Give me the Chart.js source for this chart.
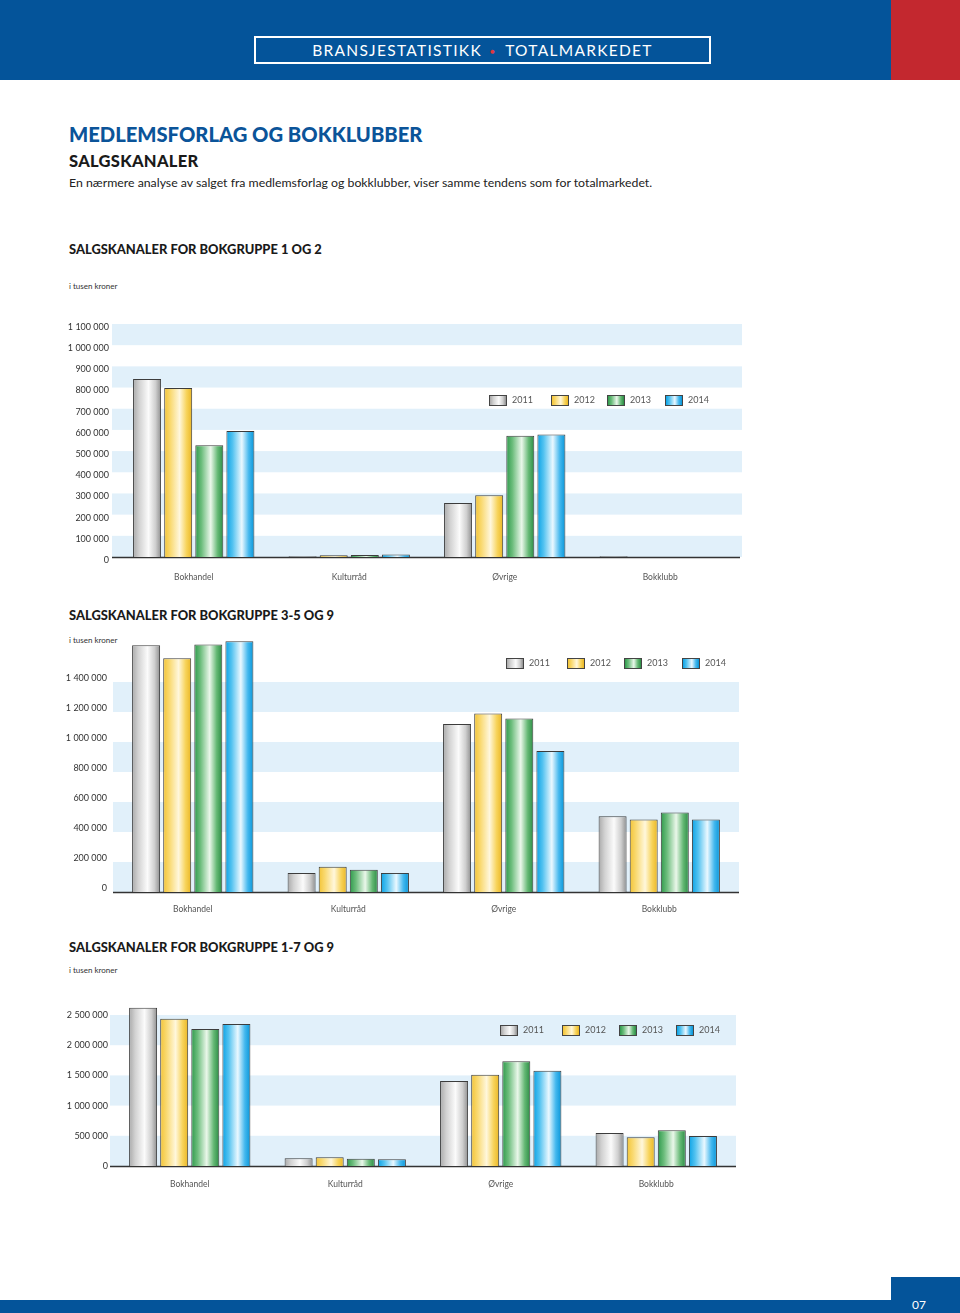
<!DOCTYPE html>
<html lang="no">
<head>
<meta charset="utf-8">
<script src="https://cdn.jsdelivr.net/npm/chart.js@4.4.1/dist/chart.umd.min.js"></script>
<style>
  html, body { margin: 0; padding: 0; background: #fff; }
  body { width: 960px; height: 1313px; position: relative; overflow: hidden; font-family: Lato, "Open Sans", sans-serif; color: #222; }
  .abs { position: absolute; }
  #hdr { left: 0; top: 0; width: 891px; height: 80px; background: #04549a; }
  #hdrRed { left: 891px; top: 0; width: 69px; height: 80px; background: #c3282f; }
  #hdrBox { left: 254px; top: 36px; width: 453px; height: 24px; border: 2px solid #fff; color: #fff; font-size: 15.5px; letter-spacing: 1.3px; text-align: center; line-height: 25px; white-space: nowrap; }
  #hdrBox .dot { color: #e0383f; font-size: 8px; margin: 0 9px 0 8px; vertical-align: 2px; }
  #h1 { left: 69px; top: 122px; font-size: 20.2px; font-weight: 900; color: #0b5499; white-space: nowrap; }
  #h2 { left: 69px; top: 151px; font-size: 16.5px; font-weight: 900; color: #1a1a1a; white-space: nowrap; letter-spacing: 0.3px; }
  #p1 { left: 69px; top: 175px; font-size: 12.3px; color: #222; white-space: nowrap; }
  .ctitle { left: 69px; font-size: 12.9px; font-weight: 900; color: #1a1a1a; white-space: nowrap; }
  .unit { left: 69px; font-size: 8px; color: #333; white-space: nowrap; }
  canvas { position: absolute; left: 0; }
  .legend { position: absolute; font-size: 9px; color: #555; white-space: nowrap; }
  .legend .item { position: absolute; top: 0; }
  .legend .sw { position: absolute; top: 0; width: 16px; height: 9px; border: 1px solid #444; }
  .legend .lt { position: absolute; top: -1px; line-height: 12px; }
  #ftBar { left: 0; top: 1300px; width: 960px; height: 13px; background: #04549a; }
  #ftBox { left: 891px; top: 1277px; width: 69px; height: 36px; background: #04549a; }
  #ftNum { left: 891px; top: 1297px; width: 35px; text-align: right; color: #fff; font-size: 12px; }
</style>
</head>
<body>
<div id="hdr" class="abs"></div>
<div id="hdrRed" class="abs"></div>
<div id="hdrBox" class="abs">BRANSJESTATISTIKK<span class="dot">●</span>TOTALMARKEDET</div>

<div id="h1" class="abs">MEDLEMSFORLAG OG BOKKLUBBER</div>
<div id="h2" class="abs">SALGSKANALER</div>
<div id="p1" class="abs">En nærmere analyse av salget fra medlemsforlag og bokklubber, viser samme tendens som for totalmarkedet.</div>

<div class="abs ctitle" style="top:241px">SALGSKANALER FOR BOKGRUPPE 1 OG 2</div>
<div class="abs unit" style="top:281px">i tusen kroner</div>
<canvas id="c1" width="960" height="300" style="top:300px"></canvas>
<div class="legend" id="lg1" style="left:489px; top:395px"></div>

<div class="abs ctitle" style="top:607px">SALGSKANALER FOR BOKGRUPPE 3-5 OG 9</div>
<div class="abs unit" style="top:635px">i tusen kroner</div>
<canvas id="c2" width="960" height="300" style="top:625px"></canvas>
<div class="legend" id="lg2" style="left:506px; top:658px"></div>

<div class="abs ctitle" style="top:939px">SALGSKANALER FOR BOKGRUPPE 1-7 OG 9</div>
<div class="abs unit" style="top:965px">i tusen kroner</div>
<canvas id="c3" width="960" height="200" style="top:990px"></canvas>
<div class="legend" id="lg3" style="left:500px; top:1025px"></div>

<div id="ftBar" class="abs"></div>
<div id="ftBox" class="abs"></div>
<div id="ftNum" class="abs">07</div>

<script>
// ---------- DATA ----------
const categories = ["Bokhandel", "Kulturråd", "Øvrige", "Bokklubb"];
const years = ["2011", "2012", "2013", "2014"];

// Salgskanaler for bokgruppe 1 og 2 (i tusen kroner)
const g12_2011 = [840000, 3000, 255000, 3000];
const g12_2012 = [798000, 8000, 291000, 0];
const g12_2013 = [528000, 9000, 572000, 0];
const g12_2014 = [595000, 12000, 578000, 0];
const g12_ticks = { max: 1100000, step: 100000 };

// Salgskanaler for bokgruppe 3-5 og 9
const g359_2011 = [1645000, 126000, 1120000, 505000];
const g359_2012 = [1558000, 168000, 1190000, 484000];
const g359_2013 = [1650000, 149000, 1156000, 530000];
const g359_2014 = [1672000, 127000, 940000, 484000];
const g359_ticks = { max: 1400000, step: 200000 };

// Salgskanaler for bokgruppe 1-7 og 9
const g179_2011 = [2620000, 127000, 1407000, 546000];
const g179_2012 = [2439000, 144000, 1512000, 476000];
const g179_2013 = [2268000, 121000, 1733000, 591000];
const g179_2014 = [2351000, 111000, 1578000, 497000];
const g179_ticks = { max: 2500000, step: 500000 };

// ---------- STYLE ----------
const gradStops = [
  ["#a9a9a9", "#d2d2d2", "#fbfbfb", "#cfcfcf", "#8f8f8f"],
  ["#f3c436", "#f9d970", "#fff7dc", "#f7d35a", "#eab624"],
  ["#2f9a4c", "#6cbd7c", "#eaf7ea", "#64b874", "#2b8c44"],
  ["#0ca3e6", "#52c2f0", "#eaf8ff", "#44b8ee", "#0795d8"]
];
const bandColor = "#e1f0fa";
const FONT = "Lato, 'Open Sans', sans-serif";

function fmt(v) { return String(v).replace(/\B(?=(\d{3})+(?!\d))/g, " "); }

function makeGrad(ctx, x0, x1, stops) {
  const g = ctx.createLinearGradient(x0, 0, x1, 0);
  g.addColorStop(0, stops[0]);
  g.addColorStop(0.22, stops[1]);
  g.addColorStop(0.55, stops[2]);
  g.addColorStop(0.8, stops[3]);
  g.addColorStop(1, stops[4]);
  return g;
}

const bandsPlugin = {
  id: "bands",
  beforeDatasetsDraw(chart) {
    const { ctx, chartArea, scales } = chart;
    const y = scales.y;
    const opt = chart.options.plugins.bands;
    ctx.save();
    ctx.fillStyle = bandColor;
    for (let v = 0, i = 0; v < opt.max; v += opt.step, i++) {
      if (i % 2 === 0) {
        const top = y.getPixelForValue(v + opt.step);
        const bot = y.getPixelForValue(v);
        ctx.fillRect(chartArea.left - opt.ext, top, chartArea.right - chartArea.left + 2 * opt.ext, bot - top);
      }
    }
    ctx.strokeStyle = "#333";
    ctx.lineWidth = 1.3;
    ctx.beginPath();
    const yb = Math.round(y.getPixelForValue(0)) + 0.5;
    ctx.moveTo(chartArea.left - opt.ext, yb);
    ctx.lineTo(chartArea.right + 2, yb);
    ctx.stroke();
    ctx.restore();
    chart.data.datasets.forEach((ds, di) => {
      const meta = chart.getDatasetMeta(di);
      meta.data.forEach(el => {
        const x0 = el.x - el.width / 2, x1 = el.x + el.width / 2;
        el.options = Object.assign({}, el.options, { backgroundColor: makeGrad(ctx, x0, x1, gradStops[di]) });
      });
    });
  }
};

function buildChart(id, series, ticks, cfg) {
  const ctx = document.getElementById(id).getContext("2d");
  return new Chart(ctx, {
    type: "bar",
    data: {
      labels: categories,
      datasets: series.map((d, i) => ({
        label: years[i],
        data: d,
        backgroundColor: gradStops[i][2],
        borderColor: "#3c3c3c",
        borderWidth: 1,
        borderSkipped: "bottom",
        categoryPercentage: 0.8,
        barPercentage: 0.9,
        clip: false
      }))
    },
    plugins: [bandsPlugin],
    options: {
      responsive: false,
      animation: false,
      devicePixelRatio: 1,
      layout: { padding: { top: cfg.top, right: 960 - cfg.right, left: 0, bottom: 0 } },
      plugins: {
        legend: { display: false },
        tooltip: { enabled: false },
        bands: { max: ticks.max, step: ticks.step, ext: cfg.ext }
      },
      scales: {
        x: {
          grid: { display: false, drawTicks: false },
          border: { display: false },
          ticks: { padding: cfg.xpad, color: "#555", font: { family: FONT, size: 8.5 } },
          afterFit(s) { s.height = cfg.xh; }
        },
        y: {
          min: 0, max: ticks.max,
          grid: { display: false, drawTicks: false },
          border: { display: false },
          ticks: {
            stepSize: ticks.step, padding: cfg.ypad, labelOffset: cfg.loff,
            color: "#333", font: { family: FONT, size: 9 },
            callback: v => fmt(v)
          },
          afterFit(s) { s.width = cfg.left; }
        }
      }
    }
  });
}

buildChart("c1", [g12_2011, g12_2012, g12_2013, g12_2014], g12_ticks,
  { top: 24, left: 116, right: 738, xh: 43, xpad: 15, ypad: 7, loff: 3, ext: 4 });
buildChart("c2", [g359_2011, g359_2012, g359_2013, g359_2014], g359_ticks,
  { top: 57, left: 115, right: 737, xh: 33, xpad: 12, ypad: 8, loff: -4, ext: 2 });
buildChart("c3", [g179_2011, g179_2012, g179_2013, g179_2014], g179_ticks,
  { top: 25, left: 112, right: 734, xh: 24, xpad: 13, ypad: 4, loff: 0, ext: 2 });

function buildLegend(id, offsets) {
  const el = document.getElementById(id);
  years.forEach((y, i) => {
    const it = document.createElement("div");
    it.className = "item";
    it.style.left = offsets[i] + "px";
    const sw = document.createElement("div");
    sw.className = "sw";
    const s = gradStops[i];
    sw.style.background = `linear-gradient(to right, ${s[0]}, ${s[1]} 22%, ${s[2]} 55%, ${s[3]} 80%, ${s[4]})`;
    const t = document.createElement("div");
    t.className = "lt";
    t.style.left = "23px";
    t.textContent = y;
    it.appendChild(sw); it.appendChild(t);
    el.appendChild(it);
  });
}
buildLegend("lg1", [0, 62, 118, 176]);
buildLegend("lg2", [0, 61, 118, 176]);
buildLegend("lg3", [0, 62, 119, 176]);
</script>
</body>
</html>
